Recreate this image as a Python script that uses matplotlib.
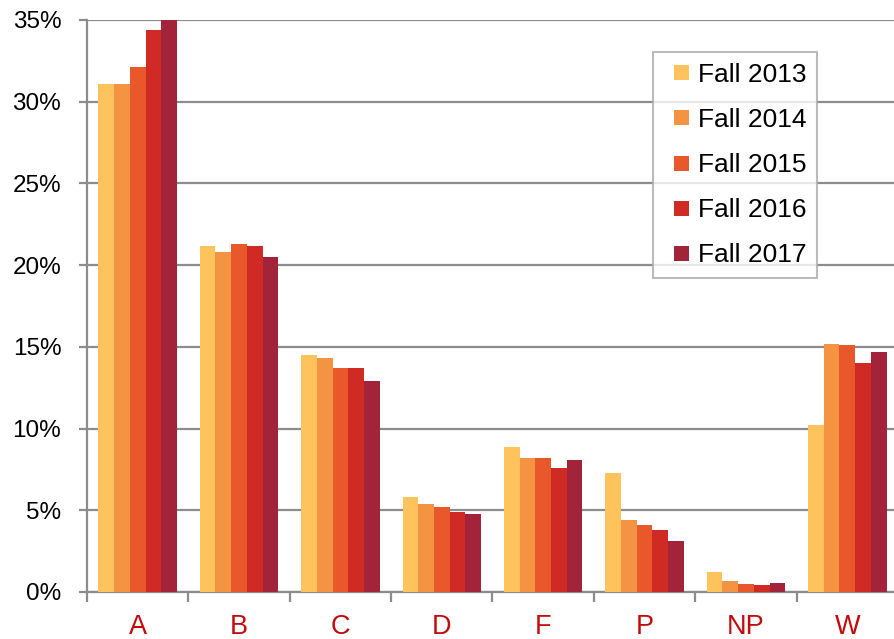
import numpy as np
import matplotlib
matplotlib.use("Agg")
import matplotlib.pyplot as plt
from matplotlib.lines import Line2D
from matplotlib.ticker import FuncFormatter

plt.rcParams['font.family'] = ['Liberation Sans', 'DejaVu Sans']

grades = ['A', 'B', 'C', 'D', 'F', 'P', 'NP', 'W']
terms = ['Fall 2013', 'Fall 2014', 'Fall 2015', 'Fall 2016', 'Fall 2017']
fall_2013 = [31.1, 21.2, 14.5, 5.8, 8.9, 7.3, 1.2, 10.2]
fall_2014 = [31.1, 20.8, 14.3, 5.4, 8.2, 4.4, 0.7, 15.2]
fall_2015 = [32.1, 21.3, 13.7, 5.2, 8.2, 4.1, 0.5, 15.1]
fall_2016 = [34.4, 21.2, 13.7, 4.9, 7.6, 3.8, 0.45, 14.0]
fall_2017 = [35.0, 20.5, 12.9, 4.8, 8.1, 3.1, 0.55, 14.7]
series = [fall_2013, fall_2014, fall_2015, fall_2016, fall_2017]
colors = ['#FFC35E', '#F49443', '#E8582B', '#CF2A24', '#A3243A']

fig = plt.figure(figsize=(8.95, 6.39), dpi=100)
ax = fig.add_axes([87 / 895, 1 - 592 / 639, 811 / 895, 572 / 639])

x = np.arange(len(grades))
w = 0.155
for i, (vals, c) in enumerate(zip(series, colors)):
    ax.bar(x + (i - 2) * w, vals, width=w, color=c, zorder=3)

ax.set_xlim(-0.5, len(grades) - 0.5)
ax.set_ylim(0, 35)
ax.set_yticks(np.arange(0, 36, 5))
ax.yaxis.set_major_formatter(FuncFormatter(lambda v, p: f'{v:.0f}%'))
ax.yaxis.grid(True, color='#8C8C8C', linewidth=1.6, zorder=0)
ax.set_axisbelow(True)

# category boundaries as ticks, labels centred
ax.set_xticks(np.arange(-0.5, len(grades), 1.0))
ax.set_xticklabels([])
ax.set_xticks(x, minor=True)
ax.set_xticklabels(grades, minor=True, color='#C40A0A', fontsize=19.5)
ax.tick_params(axis='x', which='minor', length=0, pad=16)
ax.tick_params(axis='x', which='major', length=7, width=1.6, color='#8C8C8C')
ax.tick_params(axis='y', length=5.5, width=1.6, color='#8C8C8C', labelsize=17.5, pad=13)

for s in ['top', 'right']:
    ax.spines[s].set_visible(False)
for s in ['left', 'bottom']:
    ax.spines[s].set_color('#8C8C8C')
    ax.spines[s].set_linewidth(1.6)

handles = [Line2D([], [], linestyle='none', marker='s', markersize=10.8,
                  markerfacecolor=c, markeredgewidth=0) for c in colors]
leg = ax.legend(handles, terms, loc='upper left', fontsize=19, frameon=True,
                fancybox=False, handlelength=1.29, handletextpad=0.0,
                labelspacing=0.8, borderpad=0.4, borderaxespad=0)
leg.get_frame().set_edgecolor('#AAAAAA')
leg.get_frame().set_linewidth(1.5)
leg.set_bbox_to_anchor((653 / 895, 1 - 52 / 639), transform=fig.transFigure)

fig.savefig('out.png', dpi=100)
